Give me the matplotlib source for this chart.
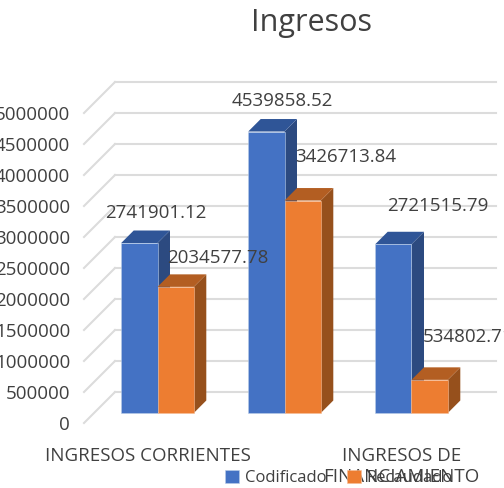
import matplotlib
matplotlib.use("Agg")
import matplotlib.pyplot as plt
from matplotlib import font_manager as fm
from matplotlib.patches import Polygon

categories = ["INGRESOS CORRIENTES", "", "INGRESOS DE\nFINANCIAMIENTO"]
codificado = [2741901.12, 4539858.52, 2721515.79]
recaudado = [2034577.78, 3426713.84, 534802.71]
series_names = ["Codificado", "Recaudado"]
title = "Ingresos"
yticks = [0, 500000, 1000000, 1500000, 2000000, 2500000, 3000000, 3500000, 4000000, 4500000, 5000000]

names = {f.name for f in fm.fontManager.ttflist}
plt.rcParams['font.family'] = 'Liberation Sans Narrow' if 'Liberation Sans Narrow' in names else 'Open Sans'
TXT = '#404040'
W, H = 504, 488
fig = plt.figure(figsize=(W/100, H/100), dpi=100)
L, R, T, B = 84, 465, 113, 423
ax = fig.add_axes([L/W, 1-B/H, (R-L)/W, (B-T)/H])
ax.set_xlim(-0.5, 2.5)
ax.set_ylim(0, 5000000)
for s in ax.spines.values():
    s.set_visible(False)
PXX = 3.0/(R-L)
PXV = 5000000/(B-T)

def P(x, v, d):
    return (x + d*PXX, v + d*PXV)

GRID = '#DCDCDC'
WALL = 31
for v in yticks:
    ax.plot(*zip(P(-0.5, v, 0), P(-0.5, v, WALL)), color=GRID, lw=1.5, clip_on=False, zorder=1)
    ax.plot(*zip(P(-0.5, v, WALL), P(2.5, v, WALL)), color=GRID, lw=1.5, clip_on=False, zorder=1)

FL, DP = 10, 12.5
BW = 36.3*PXX
colors = [('#4472C4', '#2F5597', '#2C4A80'), ('#ED7D31', '#B35E22', '#96501C')]
lab_off = [[(16, 30), (16, 31), (44, 38)], [(42, 29), (43, 44), (38, 43)]]
handles = []
for i, x0 in enumerate(range(3)):
    for j, vals in enumerate((codificado, recaudado)):
        v = vals[i]
        xl = x0 + (j-1)*BW
        xr = xl + BW
        front, top, side = colors[j]
        z = 2 + i*3 + j*3
        ax.add_patch(Polygon([P(xr, 0, FL), P(xr, 0, FL+DP), P(xr, v, FL+DP), P(xr, v, FL)],
                             fc=side, ec='none', clip_on=False, zorder=z))
        ax.add_patch(Polygon([P(xl, v, FL), P(xr, v, FL), P(xr, v, FL+DP), P(xl, v, FL+DP)],
                             fc=top, ec='none', clip_on=False, zorder=z))
        b = ax.bar(xl + FL*PXX, v, BW, bottom=FL*PXV, align='edge', color=front,
                   edgecolor='#B9CDE8' if j == 0 else '#F6BE98', linewidth=0.4,
                   clip_on=False, zorder=z+1, label=series_names[j] if i == 0 else None)
        ox, oy = lab_off[j][i]
        ax.annotate(f"{v:.2f}", P((xl+xr)/2, v, FL), xytext=(ox*0.72, oy*0.72),
                    textcoords='offset points', ha='center', va='center',
                    fontsize=13.5, color=TXT, zorder=30, annotation_clip=False)

ax.set_yticks(yticks)
ax.set_yticklabels([str(v) for v in yticks], fontsize=13.5, color=TXT)
ax.set_xticks(range(3))
ax.set_xticklabels(categories, fontsize=13.5, color=TXT, linespacing=1.25)
ax.tick_params(axis='both', length=0)
ax.tick_params(axis='y', pad=10)
ax.tick_params(axis='x', pad=17)

fig.text(312/W, 1-23/H, title, ha='center', va='center', fontsize=22, color=TXT)
h, l = ax.get_legend_handles_labels()
leg = fig.legend(h, l, loc='center left', bbox_to_anchor=(225/W, 1-478/H), ncol=2, frameon=False,
                 fontsize=12, labelcolor=TXT, handlelength=0.85, handleheight=0.85,
                 handletextpad=0.35, columnspacing=1.2, borderpad=0, borderaxespad=0)
fig.savefig("out.png", dpi=100)
